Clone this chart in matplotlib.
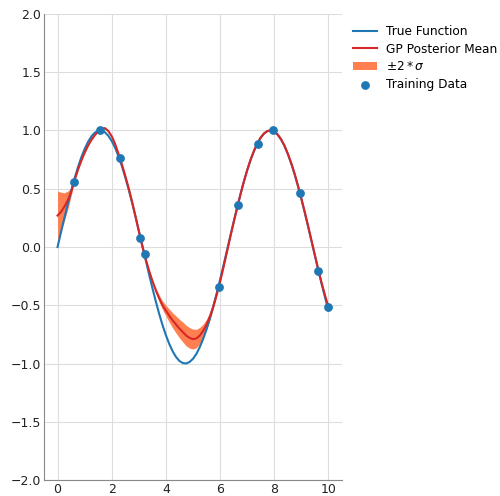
import matplotlib.pyplot as plt

# sample grid for the curves (step 0.125)
x_grid = [0.0, 0.125, 0.25, 0.375, 0.5, 0.625, 0.75, 0.875,
          1.0, 1.125, 1.25, 1.375, 1.5, 1.625, 1.75, 1.875,
          2.0, 2.125, 2.25, 2.375, 2.5, 2.625, 2.75, 2.875,
          3.0, 3.125, 3.25, 3.375, 3.5, 3.625, 3.75, 3.875,
          4.0, 4.125, 4.25, 4.375, 4.5, 4.625, 4.75, 4.875,
          5.0, 5.125, 5.25, 5.375, 5.5, 5.625, 5.75, 5.875,
          6.0, 6.125, 6.25, 6.375, 6.5, 6.625, 6.75, 6.875,
          7.0, 7.125, 7.25, 7.375, 7.5, 7.625, 7.75, 7.875,
          8.0, 8.125, 8.25, 8.375, 8.5, 8.625, 8.75, 8.875,
          9.0, 9.125, 9.25, 9.375, 9.5, 9.625, 9.75, 9.875, 10.0]

true_y = [0.000, 0.125, 0.247, 0.366, 0.479, 0.585, 0.682, 0.768,
          0.841, 0.902, 0.949, 0.981, 0.997, 0.999, 0.984, 0.954,
          0.909, 0.851, 0.778, 0.694, 0.598, 0.494, 0.382, 0.264,
          0.141, 0.017, -0.108, -0.231, -0.351, -0.465, -0.572, -0.670,
          -0.757, -0.832, -0.895, -0.944, -0.978, -0.996, -0.999, -0.986,
          -0.959, -0.917, -0.859, -0.789, -0.706, -0.612, -0.508, -0.396,
          -0.279, -0.158, -0.033, 0.092, 0.215, 0.336, 0.451, 0.559,
          0.657, 0.746, 0.823, 0.887, 0.938, 0.974, 0.995, 1.000,
          0.989, 0.963, 0.923, 0.868, 0.798, 0.717, 0.625, 0.522,
          0.412, 0.296, 0.174, 0.049, -0.075, -0.199, -0.319, -0.434, -0.544]

mean_y = [0.27, 0.30, 0.345, 0.40, 0.47, 0.57, 0.66, 0.74,
          0.81, 0.87, 0.92, 0.96, 0.99, 1.015, 1.02, 0.995,
          0.95, 0.885, 0.80, 0.71, 0.61, 0.505, 0.39, 0.265,
          0.135, 0.01, -0.10, -0.20, -0.29, -0.37, -0.44, -0.50,
          -0.545, -0.59, -0.63, -0.665, -0.70, -0.73, -0.76, -0.78,
          -0.79, -0.785, -0.76, -0.72, -0.665, -0.595, -0.51, -0.41,
          -0.30, -0.175, -0.045, 0.085, 0.21, 0.33, 0.45, 0.56,
          0.66, 0.75, 0.825, 0.89, 0.94, 0.975, 0.995, 1.0,
          0.99, 0.965, 0.925, 0.87, 0.80, 0.72, 0.63, 0.525,
          0.415, 0.30, 0.18, 0.055, -0.07, -0.195, -0.31, -0.415, -0.515]

# two standard deviations around the mean
two_sigma = [0.21, 0.17, 0.12, 0.08, 0.035, 0.0, 0.004, 0.006,
             0.007, 0.007, 0.006, 0.004, 0.0, 0.003, 0.005, 0.005,
             0.004, 0.002, 0.0, 0.002, 0.003, 0.003, 0.002, 0.0,
             0.0, 0.0, 0.0, 0.005, 0.012, 0.02, 0.028, 0.037,
             0.046, 0.056, 0.065, 0.073, 0.08, 0.085, 0.088, 0.088,
             0.085, 0.079, 0.07, 0.058, 0.045, 0.032, 0.02, 0.008,
             0.0, 0.003, 0.004, 0.003, 0.0, 0.001, 0.002, 0.003,
             0.003, 0.002, 0.0, 0.001, 0.002, 0.001, 0.0, 0.0,
             0.0, 0.002, 0.003, 0.003, 0.002, 0.001, 0.0, 0.0,
             0.0, 0.002, 0.002, 0.001, 0.0, 0.0, 0.0, 0.0, 0.0]

train_x = [0.59, 1.56, 2.30, 3.04, 3.22, 5.96, 6.67, 7.41, 7.96, 8.96, 9.63, 9.98]
train_y = [0.56, 1.00, 0.76, 0.08, -0.06, -0.34, 0.36, 0.88, 1.00, 0.46, -0.21, -0.515]

lower = [m - s for m, s in zip(mean_y, two_sigma)]
upper = [m + s for m, s in zip(mean_y, two_sigma)]

fig = plt.figure(figsize=(5, 4.96), dpi=100)
ax = fig.add_axes([0.088, 0.032, 0.596, 0.94])

ax.plot(x_grid, true_y, color='#1f77b4', lw=1.5, label='True Function')
ax.plot(x_grid, mean_y, color='#d62728', lw=1.5, label='GP Posterior Mean')
ax.fill_between(x_grid, lower, upper, color='#ff7f50', lw=0, label=r'$\pm 2 * \sigma$')
ax.scatter(train_x, train_y, s=28, color='#1f77b4', zorder=3, label='Training Data')

ax.set_xlim(-0.5, 10.5)
ax.set_ylim(-2.0, 2.0)
ax.set_xticks([0, 2, 4, 6, 8, 10])
ax.set_yticks([-2.0, -1.5, -1.0, -0.5, 0.0, 0.5, 1.0, 1.5, 2.0])
ax.grid(True, color='#dddddd', lw=0.8)
ax.set_axisbelow(True)
for side in ('top', 'right'):
    ax.spines[side].set_visible(False)
for side in ('left', 'bottom'):
    ax.spines[side].set_color('#888888')
ax.tick_params(length=0, pad=2, labelcolor='#222222', labelsize=9)

ax.legend(loc='upper left', bbox_to_anchor=(1.0, 1.0), frameon=False,
          fontsize=8.7, labelspacing=0.4, handletextpad=0.75)

fig.savefig('out.png')
